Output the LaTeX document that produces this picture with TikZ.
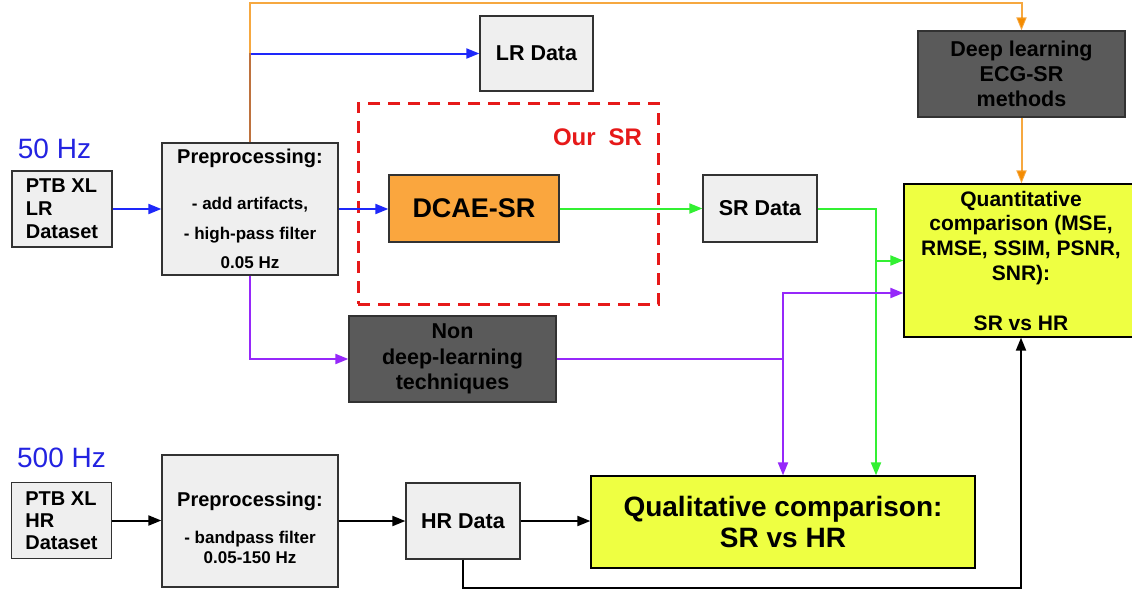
\documentclass[tikz,border=0pt]{standalone}
\usepackage{fontspec}
\setmainfont{Liberation Sans}
\usetikzlibrary{arrows.meta,calc}
\definecolor{lgray}{RGB}{239,239,239}
\definecolor{dgray}{RGB}{90,90,90}
\definecolor{bordc}{RGB}{50,50,50}
\definecolor{dcaeor}{RGB}{250,166,62}
\definecolor{yel}{RGB}{238,255,66}
\definecolor{lineor}{RGB}{244,139,0}
\definecolor{lineblue}{RGB}{30,40,250}
\definecolor{linegreen}{RGB}{50,240,50}
\definecolor{linepurple}{RGB}{150,40,250}
\definecolor{dashred}{RGB}{230,25,25}
\definecolor{hzblue}{RGB}{35,35,225}
\newcommand\fsz[2]{\fontsize{#1}{#2}\selectfont}
\begin{document}
\begin{tikzpicture}[x=1pt,y=-1pt,
  basebox/.style={draw=bordc, line width=1.3pt, inner sep=0pt, align=center},
  lbox/.style={basebox, fill=lgray},
  dbox/.style={basebox, fill=dgray},
  ybox/.style={basebox, draw=black, fill=yel},
  obox/.style={basebox, fill=dcaeor},
  tip/.style={-{Triangle[length=13pt,width=10pt]}},
  bl/.style={draw=lineblue, line width=2pt},
  gl/.style={draw=linegreen, line width=2pt},
  pl/.style={draw=linepurple, line width=2pt},
  ol/.style={draw=lineor, draw opacity=0.75, line width=2pt},
  kl/.style={draw=black, line width=2pt}]
\useasboundingbox (0,0) rectangle (1132,592);
\clip (0,0) rectangle (1132,592);
\fill[white] (0,0) rectangle (1132,592);

% labels
\node[font=\fsz{28}{30}, text=hzblue] (hz50) at (54.5,149) {50 Hz};
\node[font=\fsz{28}{30}, text=hzblue] (hz500) at (61.5,458) {500 Hz};

% red dashed region
\node[draw=dashred, line width=3pt, dash pattern=on 12pt off 8pt,
      minimum width=300.5pt, minimum height=201pt, inner sep=0pt] (oursr) at (508.25,203.5) {};
\node[font=\bfseries\fsz{24}{26}, text=dashred] (ourlbl) at (597.5,137) {Our\hspace{13pt}SR};

% boxes
\node[lbox, minimum width=100pt, minimum height=76pt, align=left, font=\bfseries\fsz{20}{23}] (ptblr) at (62,209) {PTB XL\\LR\\Dataset};
\node[lbox, minimum width=176pt, minimum height=132pt, font=\bfseries\fsz{17}{29.5}] (preplr) at (250,209)
  {{\fsz{20}{24}Preprocessing:}\\[16.5pt]- add artifacts,\\- high-pass filter\\0.05 Hz};
\node[lbox, minimum width=113pt, minimum height=75pt, font=\bfseries\fsz{21.5}{25}] (lrdata) at (536.5,53.5) {LR Data};
\node[obox, minimum width=170pt, minimum height=67pt, font=\bfseries\fsz{27}{30}] (dcae) at (474,208.5) {DCAE-SR};
\node[lbox, minimum width=114pt, minimum height=67pt, font=\bfseries\fsz{21.5}{25}] (srdata) at (760,208.5) {SR Data};
\node[dbox, minimum width=207pt, minimum height=86pt, font=\bfseries\fsz{21.5}{25}] (deep) at (1021.5,74) {Deep learning\\ECG-SR\\methods};
\node[dbox, minimum width=207pt, minimum height=86pt, font=\bfseries\fsz{21.5}{25.5}] (nondeep) at (452.5,359) {Non\\deep-learning\\techniques};
\node[ybox, minimum width=234pt, minimum height=153pt, font=\bfseries\fsz{21}{24.8}] (quant) at (1021,260.5)
  {Quantitative\\comparison (MSE,\\RMSE, SSIM, PSNR,\\SNR):\\[24.8pt]SR vs HR};
\node[ybox, minimum width=384pt, minimum height=92pt, font=\bfseries\fsz{28}{31}] (qual) at (783,522) {Qualitative comparison:\\SR vs HR};
\node[lbox, minimum width=100pt, minimum height=76pt, align=left, font=\bfseries\fsz{20}{22}] (ptbhr) at (61.5,520.5) {PTB XL\\HR\\Dataset};
\node[lbox, minimum width=176pt, minimum height=132pt, font=\bfseries\fsz{17}{19.5}] (prephr) at (250,521)
  {\rule{0pt}{28pt}{\fsz{20}{24}Preprocessing:}\\[17.5pt]- bandpass filter\\0.05-150 Hz};
\node[lbox, minimum width=114pt, minimum height=76pt, font=\bfseries\fsz{21.5}{25}] (hrdata) at (463,521) {HR Data};

% helper coordinates
\coordinate (otop) at (249.5,3);
\coordinate (pj) at (qual.north |- nondeep.east);
\coordinate (gj) at (876,260.5);

% blue
\draw[bl, tip] (ptblr.east) -- (ptblr.east -| preplr.west);
\draw[bl, tip] (preplr.east) -- (preplr.east -| dcae.west);
\draw[bl, tip] (preplr.north) |- (lrdata.west);
% orange
\draw[ol, tip] (preplr.north) -- (preplr.north |- otop) -| (deep.north);
\draw[ol, tip] (deep.south) -- (deep.south |- quant.north);
% green
\draw[gl, tip] (dcae.east) -- (srdata.west);
\draw[gl, tip] (srdata.east) -| (gj |- qual.north);
\draw[gl, tip] (gj) -- (quant.west);
% purple
\draw[pl, tip] (preplr.south) |- (nondeep.west);
\draw[pl, tip] (nondeep.east) -| (qual.north);
\draw[pl, tip] (pj) |- ($(quant.west)+(0,32.5)$);
% black
\draw[kl, tip] (ptbhr.east) -- (ptbhr.east -| prephr.west);
\draw[kl, tip] (prephr.east) -- (prephr.east -| hrdata.west);
\draw[kl, tip] (hrdata.east) -- (hrdata.east -| qual.west);
\draw[kl, tip] (hrdata.south) -- ++(0,28) -| (quant.south);
\end{tikzpicture}
\end{document}
